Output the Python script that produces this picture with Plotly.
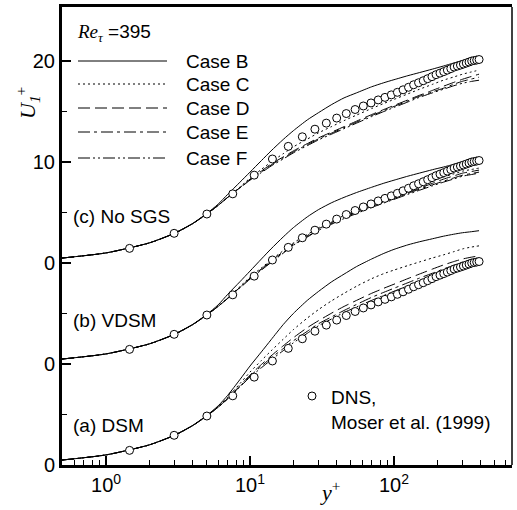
import plotly.graph_objects as go

# ---------------- data ----------------
dns_yplus = [1.456, 2.971, 5.016, 7.590, 10.69, 14.31, 18.44, 23.09, 28.24, 33.89,
             40.02, 46.64, 53.73, 61.28, 69.29, 77.73, 86.61, 95.90, 105.6, 115.7,
             126.2, 137.0, 148.2, 159.7, 171.5, 183.7, 196.1, 208.8, 221.8, 234.9,
             248.3, 261.9, 275.7, 289.7, 303.7, 317.9, 332.3, 346.7, 361.1, 375.6, 390.2]
dns_uplus = [1.45, 2.94, 4.85, 6.85, 8.7, 10.3, 11.55, 12.5, 13.25, 13.85,
             14.35, 14.8, 15.2, 15.55, 15.85, 16.15, 16.4, 16.65, 16.9, 17.15,
             17.4, 17.65, 17.85, 18.05, 18.25, 18.45, 18.65, 18.8, 18.95, 19.1,
             19.25, 19.4, 19.5, 19.6, 19.7, 19.8, 19.9, 20.0, 20.05, 20.1, 20.15]

les_yplus = [0.494, 1, 2, 3, 4, 5, 6, 7, 8.5, 10, 12, 14, 17, 20, 25, 30, 37, 45, 55, 70,
             85, 100, 125, 150, 185, 220, 260, 300, 345, 390]

panel_names = ["(a) DSM", "(b) VDSM", "(c) No SGS"]
panel_offsets = [0, 10, 20]
case_names = ["Case B", "Case C", "Case D", "Case E", "Case F"]

dsm_B = [0.49, 1.0, 2.0, 2.97, 3.93, 4.9, 5.85, 6.9, 8.45, 9.8, 11.2, 12.4, 13.9, 15.0, 16.3, 17.2,
         18.15, 18.9, 19.65, 20.4, 20.95, 21.35, 21.8, 22.1, 22.4, 22.65, 22.85, 23.0, 23.1, 23.2]
dsm_C = [0.49, 1.0, 1.99, 2.96, 3.92, 4.87, 5.8, 6.7, 8.05, 9.2, 10.35, 11.3, 12.45, 13.4, 14.55, 15.4,
         16.27, 17.0, 17.7, 18.45, 18.95, 19.3, 19.75, 20.1, 20.5, 20.8, 21.12, 21.4, 21.58, 21.7]
dsm_D = [0.49, 1.0, 1.99, 2.95, 3.9, 4.85, 5.72, 6.6, 7.84, 8.9, 9.95, 10.8, 11.8, 12.6, 13.6, 14.3,
         15.05, 15.7, 16.3, 17.0, 17.5, 17.9, 18.46, 18.9, 19.4, 19.8, 20.14, 20.4, 20.58, 20.7]
dsm_E = [0.49, 1.0, 1.99, 2.95, 3.9, 4.85, 5.72, 6.55, 7.77, 8.8, 9.79, 10.6, 11.52, 12.3, 13.24, 14.0,
         14.68, 15.3, 15.9, 16.6, 17.1, 17.5, 18.05, 18.5, 18.99, 19.4, 19.77, 20.1, 20.32, 20.5]
dsm_F = [0.49, 1.0, 1.99, 2.95, 3.9, 4.85, 5.72, 6.55, 7.72, 8.7, 9.63, 10.4, 11.32, 12.1, 13.04, 13.8,
         14.47, 15.1, 15.65, 16.3, 16.79, 17.2, 17.75, 18.2, 18.75, 19.2, 19.58, 19.9, 20.11, 20.3]

vdsm_B = [0.49, 1.0, 2.0, 2.97, 3.93, 4.9, 5.85, 6.9, 8.14, 9.2, 10.4, 11.4, 12.58, 13.5, 14.57, 15.3,
          15.98, 16.5, 16.98, 17.5, 17.9, 18.2, 18.6, 18.9, 19.24, 19.5, 19.77, 20.0, 20.18, 20.3]
vdsm_C = [0.49, 1.0, 1.99, 2.95, 3.9, 4.85, 5.72, 6.55, 7.66, 8.6, 9.52, 10.3, 11.22, 12.0, 12.82, 13.5,
          14.12, 14.7, 15.2, 15.8, 16.24, 16.6, 17.15, 17.6, 18.09, 18.5, 18.82, 19.1, 19.26, 19.4]
vdsm_D = [0.49, 1.0, 1.99, 2.95, 3.9, 4.85, 5.7, 6.5, 7.58, 8.5, 9.42, 10.2, 11.12, 11.9, 12.72, 13.4,
          14.02, 14.6, 15.1, 15.7, 16.14, 16.5, 16.99, 17.4, 17.89, 18.3, 18.62, 18.9, 19.06, 19.2]
vdsm_E = [0.49, 1.0, 1.99, 2.95, 3.9, 4.85, 5.7, 6.5, 7.58, 8.5, 9.37, 10.1, 11.02, 11.8, 12.62, 13.3,
          13.92, 14.5, 15.0, 15.6, 16.04, 16.4, 16.9, 17.3, 17.74, 18.1, 18.42, 18.7, 18.86, 19.0]
vdsm_F = [0.49, 1.0, 1.99, 2.95, 3.9, 4.85, 5.7, 6.5, 7.52, 8.4, 9.3, 10.05, 10.97, 11.75, 12.57, 13.25,
          13.85, 14.4, 14.9, 15.5, 15.94, 16.3, 16.8, 17.2, 17.64, 18.0, 18.32, 18.6, 18.76, 18.9]

nosgs_B = [0.49, 1.0, 2.0, 2.97, 3.93, 4.9, 5.82, 6.8, 7.99, 9.0, 10.14, 11.1, 12.23, 13.1, 14.17, 14.9,
           15.7, 16.35, 16.85, 17.45, 17.85, 18.15, 18.55, 18.85, 19.2, 19.5, 19.8, 20.05, 20.25, 20.4]
nosgs_C = [0.49, 1.0, 1.99, 2.95, 3.9, 4.85, 5.7, 6.5, 7.52, 8.4, 9.27, 10.0, 10.82, 11.5, 12.27, 12.9,
           13.52, 14.1, 14.65, 15.3, 15.8, 16.2, 16.75, 17.2, 17.69, 18.1, 18.42, 18.7, 18.92, 19.1]
nosgs_D = [0.49, 1.0, 1.99, 2.95, 3.9, 4.85, 5.7, 6.5, 7.46, 8.3, 9.1, 9.8, 10.5, 11.1, 11.82, 12.4,
           12.97, 13.5, 14.05, 14.7, 15.2, 15.6, 16.15, 16.6, 17.09, 17.5, 17.88, 18.2, 18.47, 18.7]
nosgs_E = [0.49, 1.0, 1.99, 2.95, 3.9, 4.85, 5.7, 6.5, 7.45, 8.25, 9.02, 9.7, 10.4, 11.0, 11.72, 12.3,
           12.87, 13.4, 13.95, 14.6, 15.1, 15.5, 16.05, 16.5, 16.95, 17.3, 17.7, 18.0, 18.22, 18.4]
nosgs_F = [0.49, 1.0, 1.99, 2.95, 3.9, 4.85, 5.7, 6.5, 7.42, 8.2, 8.95, 9.6, 10.3, 10.9, 11.62, 12.2,
           12.77, 13.3, 13.85, 14.5, 15.0, 15.4, 15.95, 16.4, 16.85, 17.2, 17.55, 17.8, 17.98, 18.1]

y_tickvals = [0, 10, 20, 30, 40]
y_ticktext = ["0", "0", "0", "10", "20"]
x_tickvals = [1, 10, 100]
x_ticktext = ["10<sup>0</sup>", "10<sup>1</sup>", "10<sup>2</sup>"]

# ---------------- styling ----------------
dashes = ["solid", "2px,3px", "12px,5px", "12px,4px,3px,4px", "12px,3px,2px,3px,2px,3px"]
panels = [[dsm_B, dsm_C, dsm_D, dsm_E, dsm_F],
          [vdsm_B, vdsm_C, vdsm_D, vdsm_E, vdsm_F],
          [nosgs_B, nosgs_C, nosgs_D, nosgs_E, nosgs_F]]

fig = go.Figure()
for p, curves in enumerate(panels):
    off = panel_offsets[p]
    for c, vals in enumerate(curves):
        fig.add_trace(go.Scatter(
            x=les_yplus, y=[v + off for v in vals], mode="lines",
            line=dict(color="black", width=1, dash=dashes[c], shape="spline", smoothing=0.6),
            name=case_names[c], showlegend=False, hoverinfo="skip"))
    fig.add_trace(go.Scatter(
        x=dns_yplus, y=[v + off for v in dns_uplus], mode="markers",
        marker=dict(symbol="circle", size=8, color="white", line=dict(color="black", width=1)),
        showlegend=False, hoverinfo="skip"))

# ------------- layout geometry -------------
L, R, T, B = 62, 512, 7, 465
W, H = 517, 510


def px(x):
    return (x - L) / (R - L)


def py(y):
    return (B - y) / (B - T)


FONT = "Liberation Sans, Arial, sans-serif"
SERIF = "Liberation Serif, Times New Roman, serif"

minor_x = [0.6, 0.7, 0.8, 0.9, 2, 3, 4, 5, 6, 7, 8, 9, 20, 30, 40, 50, 60, 70, 80, 90,
           200, 300, 400, 500, 600]

fig.update_layout(
    width=W, height=H,
    margin=dict(l=L, r=W - R, t=T, b=H - B, pad=0),
    paper_bgcolor="white", plot_bgcolor="white",
    font=dict(family=FONT, size=19, color="black"),
    xaxis=dict(type="log", range=[-0.306, 2.82], showgrid=False, zeroline=False,
               showline=True, linecolor="black", linewidth=3, mirror=True,
               ticks="inside", ticklen=9, tickwidth=1.5, tickcolor="black",
               tickvals=x_tickvals, ticktext=x_ticktext,
               tickfont=dict(size=20, family=FONT),
               minor=dict(tickvals=minor_x, ticks="inside", ticklen=5, tickwidth=1, tickcolor="black")),
    yaxis=dict(range=[0, 45.35], showgrid=False, zeroline=False,
               showline=True, linecolor="black", linewidth=3, mirror=False,
               ticks="inside", ticklen=9, tickwidth=1.5, tickcolor="black",
               tickvals=y_tickvals, ticktext=y_ticktext,
               tickfont=dict(size=20, family=FONT),
               minor=dict(tickvals=[5, 15, 25, 35], ticks="inside", ticklen=5, tickwidth=1, tickcolor="black")),
)

shapes = []
# right border (thinner)
shapes.append(dict(type="line", xref="paper", yref="paper", x0=1, x1=1, y0=0, y1=1,
                   line=dict(color="black", width=1.5)))
# legend sample lines
leg_y = [61, 84, 108, 132, 158]
for c in range(5):
    shapes.append(dict(type="line", xref="paper", yref="paper",
                       x0=px(78), x1=px(167), y0=py(leg_y[c]), y1=py(leg_y[c]),
                       line=dict(color="black", width=1, dash=dashes[c])))
# DNS legend marker
shapes.append(dict(type="circle", xref="paper", yref="paper",
                   xsizemode="pixel", ysizemode="pixel",
                   xanchor=px(312), yanchor=py(396), x0=-4, x1=4, y0=-4, y1=4,
                   line=dict(color="black", width=1), fillcolor="white"))
fig.update_layout(shapes=shapes)

ann = []
ann.append(dict(xref="paper", yref="paper", x=px(75), y=py(33), xanchor="left", yanchor="middle",
                showarrow=False,
                text='<span style="font-family:Liberation Serif"><i>Re</i><sub><i>τ</i></sub></span> =395',
                font=dict(size=19)))
for c in range(5):
    ann.append(dict(xref="paper", yref="paper", x=px(184), y=py(leg_y[c]), xanchor="left",
                    yanchor="middle", showarrow=False, text=case_names[c], font=dict(size=19)))
panel_label_y = [425, 320, 216]
for p in range(3):
    ann.append(dict(xref="paper", yref="paper", x=px(71), y=py(panel_label_y[p]), xanchor="left",
                    yanchor="middle", showarrow=False, text=panel_names[p], font=dict(size=19)))
ann.append(dict(xref="paper", yref="paper", x=px(329), y=py(397), xanchor="left", yanchor="middle",
                showarrow=False, text="DNS,", font=dict(size=19)))
ann.append(dict(xref="paper", yref="paper", x=px(329), y=py(422), xanchor="left", yanchor="middle",
                showarrow=False, text="Moser et al. (1999)", font=dict(size=19)))
# axis titles
ann.append(dict(xref="paper", yref="paper", x=px(27), y=py(103), xanchor="center", yanchor="middle",
                showarrow=False, textangle=-90,
                text="<i>U</i><sub><i>1</i></sub><sup>+</sup>", font=dict(size=22, family=SERIF)))
ann.append(dict(xref="paper", yref="paper", x=px(330), y=py(491), xanchor="center", yanchor="middle",
                showarrow=False, text="<i>y</i><sup>+</sup>", font=dict(size=22, family=SERIF)))
fig.update_layout(annotations=ann)

fig.write_html("out.html")
